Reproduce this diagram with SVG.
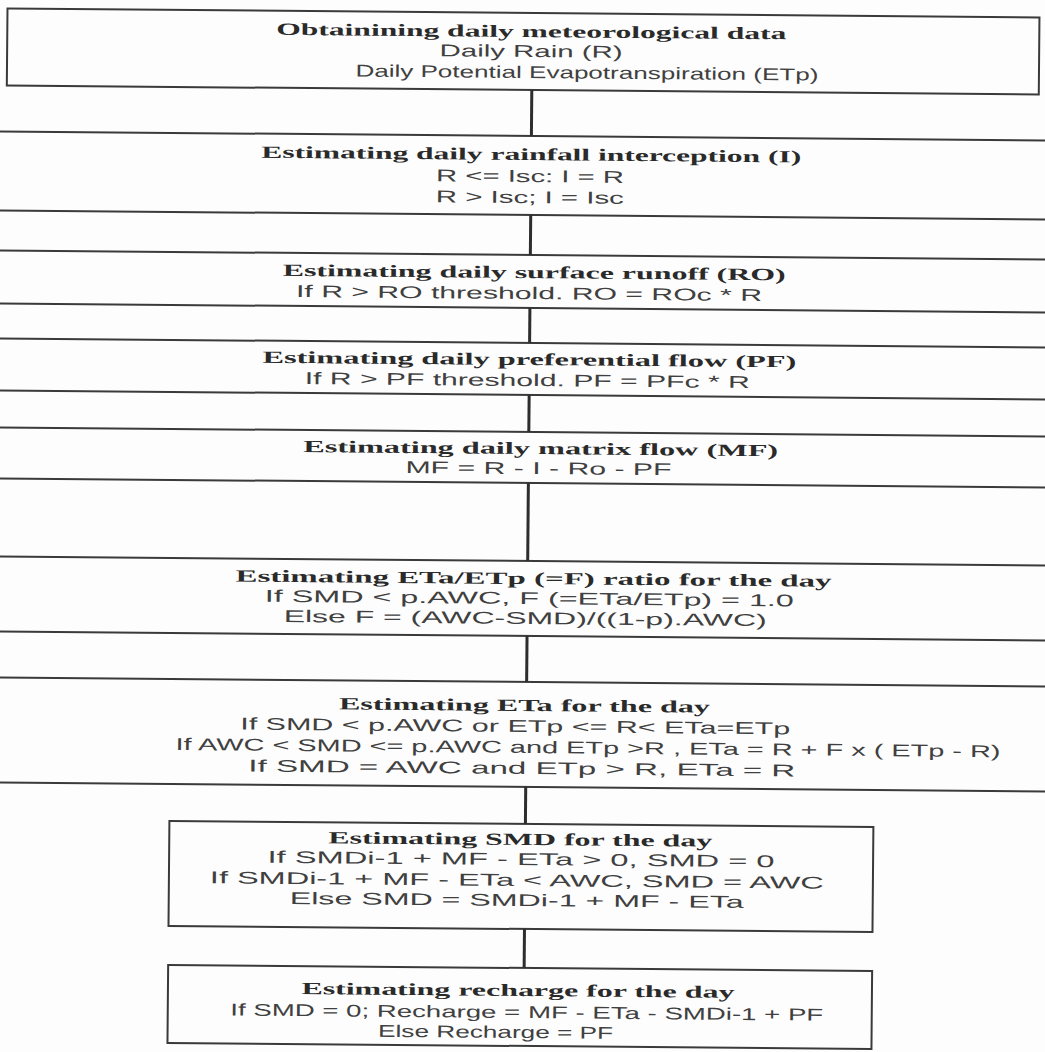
<svg xmlns="http://www.w3.org/2000/svg" width="1045" height="1052" viewBox="0 0 1045 1052">
<style>
.box{fill:none;stroke:#3a3a3a;stroke-width:2}
.t{font-family:"Liberation Serif",serif;font-weight:bold;font-size:17px;fill:#2a2a2a;text-anchor:middle}
.b{font-family:"Liberation Sans",sans-serif;font-size:17px;fill:#404040;text-anchor:middle}
.conn line{stroke:#2e2e2e;stroke-width:3}
</style>
<rect width="1045" height="1052" fill="#fdfdfd"/>
<g transform="rotate(0.5 526 526)">
<g id="n1">
<rect class="box" x="3" y="13" width="1032" height="77"/>
<text class="t" x="527" y="37" textLength="510" lengthAdjust="spacingAndGlyphs">Obtainining daily meteorological data</text>
<text class="b" x="527" y="57" textLength="183" lengthAdjust="spacingAndGlyphs">Daily Rain (R)</text>
<text class="b" x="583" y="78" textLength="463" lengthAdjust="spacingAndGlyphs">Daily Potential Evapotranspiration (ETp)</text>
</g>
<g id="n2">
<rect class="box" x="-20" y="136" width="1085" height="79"/>
<text class="t" x="528" y="160" textLength="540" lengthAdjust="spacingAndGlyphs">Estimating daily rainfall interception (I)</text>
<text class="b" x="527" y="182" textLength="188" lengthAdjust="spacingAndGlyphs">R &lt;= Isc: I = R</text>
<text class="b" x="527" y="203" textLength="188" lengthAdjust="spacingAndGlyphs">R &gt; Isc; I = Isc</text>
</g>
<g id="n3">
<rect class="box" x="-20" y="255" width="1085" height="53"/>
<text class="t" x="532" y="278" textLength="503" lengthAdjust="spacingAndGlyphs">Estimating daily surface runoff (RO)</text>
<text class="b" x="527" y="299" textLength="466" lengthAdjust="spacingAndGlyphs">If R &gt; RO threshold. RO = ROc * R</text>
</g>
<g id="n4">
<rect class="box" x="-20" y="343" width="1085" height="52"/>
<text class="t" x="528" y="365" textLength="534" lengthAdjust="spacingAndGlyphs">Estimating daily preferential flow (PF)</text>
<text class="b" x="526" y="386" textLength="445" lengthAdjust="spacingAndGlyphs">If R &gt; PF threshold. PF = PFc * R</text>
</g>
<g id="n5">
<rect class="box" x="-20" y="432" width="1085" height="51"/>
<text class="t" x="540" y="454" textLength="475" lengthAdjust="spacingAndGlyphs">Estimating daily matrix flow (MF)</text>
<text class="b" x="538" y="474" textLength="266" lengthAdjust="spacingAndGlyphs">MF = R - I - Ro - PF</text>
</g>
<g id="n6">
<rect class="box" x="-20" y="561" width="1085" height="75"/>
<text class="t" x="534" y="584" textLength="596" lengthAdjust="spacingAndGlyphs">Estimating ETa/ETp (=F) ratio for the day</text>
<text class="b" x="530" y="604" textLength="529" lengthAdjust="spacingAndGlyphs">If SMD &lt; p.AWC, F (=ETa/ETp) = 1.0</text>
<text class="b" x="526" y="624" textLength="483" lengthAdjust="spacingAndGlyphs">Else F = (AWC-SMD)/((1-p).AWC)</text>
</g>
<g id="n7">
<rect class="box" x="-20" y="682" width="1085" height="105"/>
<text class="t" x="526" y="711" textLength="371" lengthAdjust="spacingAndGlyphs">Estimating ETa for the day</text>
<text class="b" x="517" y="732" textLength="550" lengthAdjust="spacingAndGlyphs">If SMD &lt; p.AWC or ETp &lt;= R&lt; ETa=ETp</text>
<text class="b" x="590" y="753" textLength="825" lengthAdjust="spacingAndGlyphs">If AWC &lt; SMD &lt;= p.AWC and ETp &gt;R , ETa = R + F x ( ETp - R)</text>
<text class="b" x="524" y="774" textLength="547" lengthAdjust="spacingAndGlyphs">If SMD = AWC and ETp &gt; R, ETa = R</text>
</g>
<g id="n8">
<rect class="box" x="172" y="824" width="704" height="105"/>
<text class="t" x="523" y="845" textLength="384" lengthAdjust="spacingAndGlyphs">Estimating SMD for the day</text>
<text class="b" x="524" y="865" textLength="507" lengthAdjust="spacingAndGlyphs">If SMDi-1 + MF - ETa &gt; 0, SMD = 0</text>
<text class="b" x="520" y="886" textLength="614" lengthAdjust="spacingAndGlyphs">If SMDi-1 + MF - ETa &lt; AWC, SMD = AWC</text>
<text class="b" x="520" y="906" textLength="454" lengthAdjust="spacingAndGlyphs">Else SMD = SMDi-1 + MF - ETa</text>
</g>
<g id="n9">
<rect class="box" x="172" y="968" width="704" height="78"/>
<text class="t" x="522" y="996" textLength="433" lengthAdjust="spacingAndGlyphs">Estimating recharge for the day</text>
<text class="b" x="531" y="1018" textLength="593" lengthAdjust="spacingAndGlyphs">If SMD = 0; Recharge = MF - ETa - SMDi-1 + PF</text>
<text class="b" x="500" y="1038" textLength="235" lengthAdjust="spacingAndGlyphs">Else Recharge = PF</text>
</g>
<g id="connectors" class="conn">
<line x1="528" y1="90" x2="528" y2="136"/>
<line x1="528" y1="215" x2="528" y2="255"/>
<line x1="528" y1="308" x2="528" y2="343"/>
<line x1="528" y1="395" x2="528" y2="432"/>
<line x1="528" y1="483" x2="528" y2="561"/>
<line x1="528" y1="636" x2="528" y2="682"/>
<line x1="528" y1="787" x2="528" y2="824"/>
<line x1="528" y1="929" x2="528" y2="968"/>
</g>
</g>
</svg>
